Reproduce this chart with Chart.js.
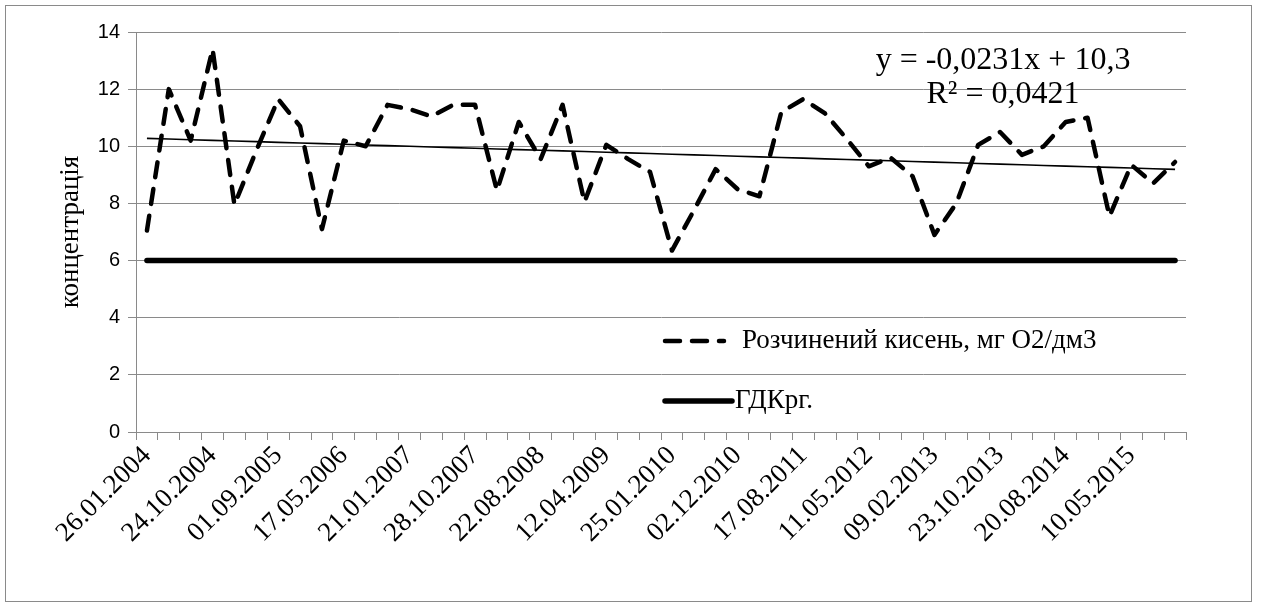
<!DOCTYPE html>
<html>
<head>
<meta charset="utf-8">
<script src="https://cdn.jsdelivr.net/npm/chart.js@4/dist/chart.umd.min.js"></script>
<style>
  html, body { margin: 0; padding: 0; background: #ffffff; }
  #wrap { position: relative; width: 1263px; height: 606px; }
</style>
</head>
<body>
<div id="wrap"><canvas id="chart"></canvas></div>
<script>
// Sampling dates printed under the axis (every third sample is labelled)
const shownDates = [
  '26.01.2004', '24.10.2004', '01.09.2005', '17.05.2006',
  '21.01.2007', '28.10.2007', '22.08.2008', '12.04.2009',
  '25.01.2010', '02.12.2010', '17.08.2011', '11.05.2012',
  '09.02.2013', '23.10.2013', '20.08.2014', '10.05.2015'
];
const labelEvery = 3;

// Dissolved oxygen, mg O2/dm3, one value per sample
const oxygen = [
  7.05, 12.0, 10.2, 13.4, 7.95, 9.85, 11.65, 10.7, 7.1, 10.2,
  10.0, 11.45, 11.3, 11.05, 11.45, 11.45, 8.45, 10.85, 9.55, 11.45,
  8.05, 10.05, 9.55, 9.1, 6.35, 7.75, 9.2, 8.5, 8.25, 11.2,
  11.65, 11.15, 10.25, 9.3, 9.6, 8.95, 6.9, 8.0, 10.05, 10.5,
  9.7, 10.0, 10.85, 11.0, 7.55, 9.35, 8.7, 9.45
];

// Fishery limit (ГДКрг.) for dissolved oxygen
const gdkLimit = 6;

// Linear trend as printed on the chart: y = -0,0231x + 10,3 (x = sample number)
const trendSlope = -0.0231;
const trendIntercept = 10.3;
const trendLabel = ['y = -0,0231x + 10,3', 'R\u00B2 = 0,0421'];

// Y axis ticks
const yMin = 0, yMax = 14, yStep = 2;

const categories = oxygen.map((_, i) => (i % labelEvery === 0 ? shownDates[i / labelEvery] : ''));
const gdk = oxygen.map(() => gdkLimit);
const trend = oxygen.map((_, i) => trendIntercept + trendSlope * (i + 1));

const GRID = '#8a8a8a';
const SERIF = '"Liberation Serif", "Times New Roman", serif';
const SANS = '"Liberation Sans", Arial, sans-serif';

Chart.defaults.font.family = SERIF;
Chart.defaults.color = '#000';

// Outer frame of the chart object
const framePlugin = {
  id: 'frame',
  beforeDraw(chart) {
    const ctx = chart.ctx;
    ctx.save();
    ctx.fillStyle = '#fff';
    ctx.fillRect(0, 0, chart.width, chart.height);
    ctx.strokeStyle = '#8a8a8a';
    ctx.lineWidth = 1;
    ctx.strokeRect(5.5, 5.5, 1246, 596);
    ctx.restore();
  }
};

// Legend drawn inside the plot, plus the trend equation
const notesPlugin = {
  id: 'notes',
  afterDraw(chart) {
    const ctx = chart.ctx;
    const ds = chart.data.datasets;
    const rows = [
      { index: 0, y: 341, x0: 665, x1: 724, tx: 742 },
      { index: 1, y: 401, x0: 665, x1: 732, tx: 735 }
    ];
    ctx.save();
    rows.forEach(r => {
      const d = ds[r.index];
      ctx.beginPath();
      ctx.setLineDash(d.borderDash || []);
      ctx.lineCap = d.borderCapStyle || 'butt';
      ctx.lineWidth = d.borderWidth;
      ctx.strokeStyle = d.borderColor;
      ctx.moveTo(r.x0, r.y);
      ctx.lineTo(r.x1, r.y);
      ctx.stroke();
      ctx.setLineDash([]);
      ctx.fillStyle = '#000';
      ctx.font = '27px ' + SERIF;
      ctx.textAlign = 'left';
      ctx.textBaseline = 'middle';
      ctx.fillText(d.label, r.tx, r.y);
    });
    ctx.font = '32px ' + SERIF;
    ctx.textAlign = 'center';
    ctx.textBaseline = 'middle';
    ctx.fillText(trendLabel[0], 1003, 61);
    ctx.fillText(trendLabel[1], 1003, 95);
    ctx.restore();
  }
};

new Chart(document.getElementById('chart'), {
  type: 'line',
  data: {
    labels: categories,
    datasets: [
      {
        label: 'Розчинений кисень, мг О2/дм3',
        data: oxygen,
        borderColor: '#000',
        borderWidth: 4.5,
        borderDash: [15, 12],
        borderCapStyle: 'round',
        borderJoinStyle: 'round',
        pointRadius: 0,
        tension: 0,
        fill: false
      },
      {
        label: 'ГДКрг.',
        data: gdk,
        borderColor: '#000',
        borderWidth: 5.5,
        borderCapStyle: 'round',
        pointRadius: 0,
        fill: false
      },
      {
        label: 'Лінійна (Розчинений кисень, мг О2/дм3)',
        data: trend,
        borderColor: '#000',
        borderWidth: 1.6,
        pointRadius: 0,
        fill: false
      }
    ]
  },
  options: {
    responsive: true,
    maintainAspectRatio: false,
    animation: false,
    events: [],
    layout: { padding: { left: 55, top: 32, right: 77, bottom: 0 } },
    plugins: {
      legend: { display: false },
      tooltip: { enabled: false }
    },
    scales: {
      x: {
        offset: true,
        grid: { offset: true, drawOnChartArea: false, drawTicks: true, tickLength: 8, color: GRID },
        border: { color: GRID, width: 1 },
        ticks: {
          autoSkip: false,
          maxRotation: 45,
          minRotation: 45,
          padding: 0,
          color: '#000',
          font: { family: SERIF, size: 27 },
          callback: (v, i) => categories[i]
        },
        afterFit: s => { s.height = 606 - 432; }
      },
      y: {
        min: yMin,
        max: yMax,
        ticks: { stepSize: yStep, padding: 8, color: '#000', font: { family: SANS, size: 20 } },
        grid: { color: GRID, tickLength: 8, drawTicks: true },
        border: { color: GRID, width: 1 },
        title: {
          display: true,
          text: 'концентрація',
          color: '#000',
          padding: 0,
          font: { family: SERIF, size: 27 }
        },
        afterFit: s => { s.width = 81; }
      }
    }
  },
  plugins: [framePlugin, notesPlugin]
});
</script>
</body>
</html>
